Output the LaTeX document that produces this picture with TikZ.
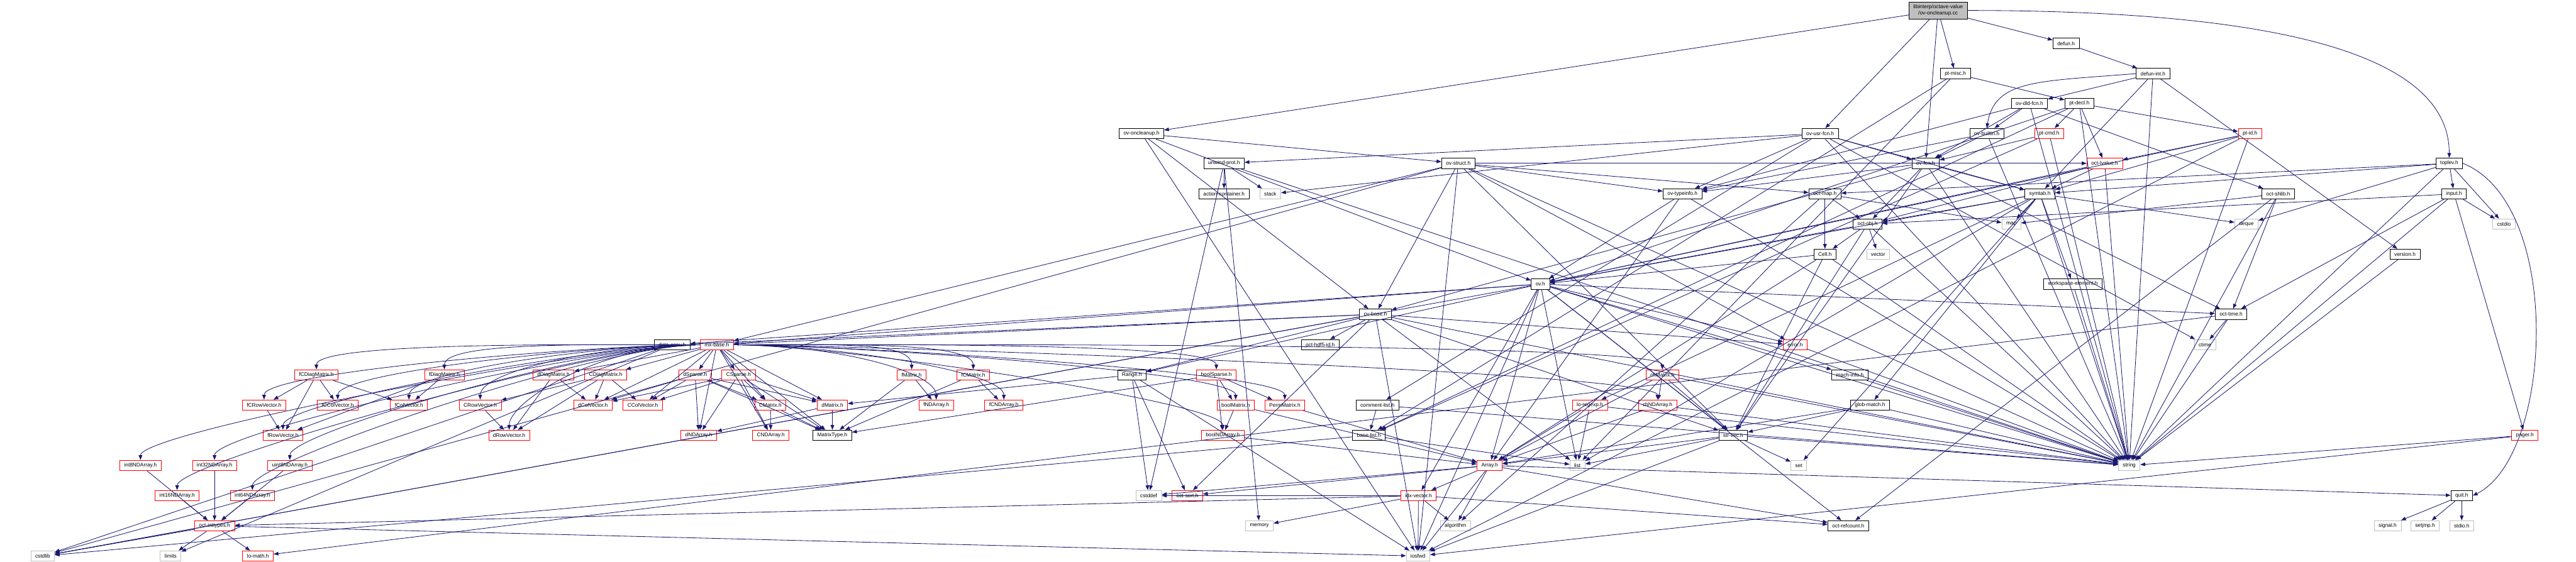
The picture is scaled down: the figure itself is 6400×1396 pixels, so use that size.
\documentclass[tikz,border=0pt]{standalone}
\usepackage{fontspec}
\setmainfont{Liberation Sans}
\usetikzlibrary{arrows.meta}
\definecolor{edgec}{HTML}{191970}
\definecolor{grayb}{HTML}{BFBFBF}
\definecolor{redb}{HTML}{FF0000}
\newcommand\deps[2]{\foreach \tg in {#2}{\draw[edge] (#1) -- (\tg);}}
\newcommand\ldeps[2]{\foreach \tg in {#2}{\draw[edge] (#1.west) .. controls +(-250,0) and +(0,-70) .. (\tg.north);}}
\newcommand\rdeps[2]{\foreach \tg in {#2}{\draw[edge] (#1.east) .. controls +(250,0) and +(0,-70) .. (\tg.north);}}
\begin{document}
\begin{tikzpicture}[x=1pt,y=-1pt,
  nbase/.style={rectangle, minimum height=26pt, inner xsep=11pt, inner ysep=0pt,
    font=\fontsize{13}{15}\selectfont, text=black, line width=1.2pt},
  nb/.style={nbase, draw=black},
  nr/.style={nbase, draw=redb},
  ns/.style={nbase, draw=grayb},
  nroot/.style={nbase, draw=black, fill=grayb, minimum height=42pt, align=center},
  edge/.style={draw=edgec, line width=1.3pt, -{Triangle[length=12pt,width=9pt]}}]
\useasboundingbox (0,0) rectangle (6400,1396);
% top levels
\node[nroot] (root) at (4815,26) {libinterp/octave-value\\/ov-oncleanup.cc};
\node[nb] (defun) at (5133,108) {defun.h};
\node[nb] (ptmisc) at (4858,183) {pt-misc.h};
\node[nb] (defunint) at (5349,183) {defun-int.h};
\node[nb] (ovdld) at (5042,257) {ov-dld-fcn.h};
\node[nb] (ptdecl) at (5166,257) {pt-decl.h};
\node[nb] (ovonc) at (2836,332) {ov-oncleanup.h};
\node[nb] (ovusr) at (4522,332) {ov-usr-fcn.h};
\node[nb] (ovbuiltin) at (4936,332) {ov-builtin.h};
\node[nr] (ptcmd) at (5091,332) {pt-cmd.h};
\node[nr] (ptid) at (5590,332) {pt-id.h};
\node[nb] (unwind) at (3041,406) {unwind-prot.h};
\node[nb] (ovstruct) at (3623,406) {ov-struct.h};
\node[nb] (ovfcn) at (4784,406) {ov-fcn.h};
\node[nr] (octlval) at (5229,406) {oct-lvalue.h};
\node[nb] (toplev) at (6085,406) {toplev.h};
\node[nb] (actcont) at (3041,482) {action-container.h};
\node[ns] (stack) at (3156,482) {stack};
\node[nb] (ovtype) at (4180,482) {ov-typeinfo.h};
\node[nb] (octmap) at (4534,482) {oct-map.h};
\node[nb] (symtab) at (5068,482) {symtab.h};
\node[nb] (octshlib) at (5660,482) {oct-shlib.h};
\node[nb] (input) at (6097,482) {input.h};
\node[nb] (octobj) at (4640,557) {oct-obj.h};
\node[ns] (map) at (4997,557) {map};
\node[ns] (deque) at (5581,557) {deque};
\node[ns] (cstdio) at (6221,557) {cstdio};
\node[nb] (cell) at (4534,632) {Cell.h};
\node[ns] (vector) at (4666,632) {vector};
\node[nb] (version) at (5975,632) {version.h};
\node[nb] (ov) at (3827,706) {ov.h};
\node[nb] (wselem) at (5150,706) {workspace-element.h};
\node[nb] (ovbase) at (3417,781) {ov-base.h};
\node[nb] (octtime) at (5543,781) {oct-time.h};
\node[nb] (dataconv) at (1670,857) {data-conv.h};
\node[nr] (mxbase) at (1781,857) {mx-base.h};
\node[nb] (hdf5id) at (3280,857) {oct-hdf5-id.h};
\node[nr] (error) at (4460,857) {error.h};
\node[ns] (ctime) at (5478,857) {ctime};
% matrix rows
\node[nr] (fCDiag) at (786,932) {fCDiagMatrix.h};
\node[nr] (fDiag) at (1104,932) {fDiagMatrix.h};
\node[nr] (dDiag) at (1375,932) {dDiagMatrix.h};
\node[nr] (CDiag) at (1505,932) {CDiagMatrix.h};
\node[nr] (dSparse) at (1727,932) {dSparse.h};
\node[nr] (CSparse) at (1835,932) {CSparse.h};
\node[nr] (fMat) at (2265,932) {fMatrix.h};
\node[nr] (fCMat) at (2418,932) {fCMatrix.h};
\node[nb] (range) at (2812,932) {Range.h};
\node[nr] (boolSparse) at (3022,932) {boolSparse.h};
\node[nr] (chMat) at (4130,932) {chMatrix.h};
\node[nb] (machinfo) at (4596,932) {mach-info.h};
\node[nr] (fCRow) at (656,1007) {fCRowVector.h};
\node[nr] (fCCol) at (839,1007) {fCColVector.h};
\node[nr] (fCol) at (1016,1007) {fColVector.h};
\node[nr] (CRow) at (1193,1007) {CRowVector.h};
\node[nr] (dCol) at (1473,1007) {dColVector.h};
\node[nr] (CCol) at (1597,1007) {CColVector.h};
\node[nr] (CMat) at (1914,1007) {CMatrix.h};
\node[nr] (dMat) at (2068,1007) {dMatrix.h};
\node[nr] (fND) at (2326,1007) {fNDArray.h};
\node[nr] (fCND) at (2494,1007) {fCNDArray.h};
\node[nr] (boolMat) at (3070,1007) {boolMatrix.h};
\node[nr] (perm) at (3192,1007) {PermMatrix.h};
\node[nb] (commentlist) at (3422,1007) {comment-list.h};
\node[nr] (regexp) at (3950,1007) {lo-regexp.h};
\node[nr] (chND) at (4118,1007) {chNDArray.h};
\node[nb] (glob) at (4646,1007) {glob-match.h};
\node[nr] (fRow) at (703,1082) {fRowVector.h};
\node[nr] (dRow) at (1265,1082) {dRowVector.h};
\node[nr] (dND) at (1736,1082) {dNDArray.h};
\node[nr] (CND) at (1915,1082) {CNDArray.h};
\node[nb] (mtype) at (2068,1082) {MatrixType.h};
\node[nr] (boolND) at (3038,1082) {boolNDArray.h};
\node[nb] (baselist) at (3401,1082) {base-list.h};
\node[nb] (strvec) at (4306,1082) {str-vec.h};
\node[nr] (pager) at (6273,1082) {pager.h};
\node[nr] (i8) at (349,1157) {int8NDArray.h};
\node[nr] (i32) at (533,1157) {int32NDArray.h};
\node[nr] (u8) at (720,1157) {uint8NDArray.h};
\node[nr] (array) at (3701,1157) {Array.h};
\node[ns] (list) at (3919,1157) {list};
\node[ns] (set) at (4469,1157) {set};
\node[ns] (string) at (5290,1157) {string};
\node[nr] (i16) at (440,1232) {int16NDArray.h};
\node[nr] (i64) at (627,1232) {int64NDArray.h};
\node[ns] (cstddef) at (2854,1232) {cstddef};
\node[nr] (octsort) at (2950,1232) {oct-sort.h};
\node[nr] (idxvec) at (3524,1232) {idx-vector.h};
\node[nb] (quit) at (6116,1232) {quit.h};
\node[nr] (inttypes) at (533,1307) {oct-inttypes.h};
\node[ns] (memory) at (3129,1307) {memory};
\node[ns] (algorithm) at (3616,1307) {algorithm};
\node[nb] (refcount) at (4592,1307) {oct-refcount.h};
\node[ns] (signal) at (5932,1307) {signal.h};
\node[ns] (setjmp) at (6025,1307) {setjmp.h};
\node[ns] (stdio) at (6116,1307) {stdio.h};
\node[ns] (cstdlib) at (106,1382) {cstdlib};
\node[ns] (limits) at (424,1382) {limits};
\node[nr] (lomath) at (641,1382) {lo-math.h};
\node[ns] (iosfwd) at (3523,1382) {iosfwd};
% edges
\deps{root}{defun,ovonc,ovfcn,ovusr,ptmisc}
\draw[edge] (root.east) .. controls +(800,0) and +(0,-250) .. (toplev.north);
\deps{defun}{defunint}
\deps{defunint}{ovdld,symtab,version,string}
\draw[edge] (defunint.west) .. controls +(-250,20) and +(20,-120) .. (ovbuiltin.north);
\deps{ptmisc}{ptdecl,baselist,list}
\deps{ptdecl}{ptcmd,ptid,octlval,baselist,string,ov}
\deps{ovdld}{ovbuiltin,ovfcn,octshlib,ovtype,string}
\deps{ovonc}{ovbase,ovstruct,ov,iosfwd}
\deps{ovusr}{ovfcn,unwind,commentlist,ovtype,symtab,ctime,string,stack}
\deps{ovbuiltin}{ovfcn,ovtype,string}
\deps{ptcmd}{ovfcn,baselist,string}
\deps{ptid}{octlval,ov,symtab,string,iosfwd}
\deps{unwind}{actcont,stack,cstddef,memory,string}
\deps{ovstruct}{cstdlib,iosfwd,string,mxbase,strvec,error,octlval,ovbase,ovtype,octmap}
\deps{ovfcn}{octobj,ovtype,ovbase,symtab,octtime,strvec,string}
\deps{octlval}{octobj,ov,symtab,string}
\deps{toplev}{input,cstdio,deque,string,octmap,symtab}
\draw[edge] (toplev.east) .. controls +(250,100) and +(200,-100) .. (quit.east);
\deps{ovtype}{ov,array,string}
\deps{octmap}{algorithm,map,cell,octobj}
\deps{symtab}{deque,list,map,set,string,glob,regexp,octobj,ov,wselem}
\deps{octshlib}{map,octtime,string,refcount}
\deps{input}{cstdio,string,octtime,octobj,pager}
\deps{octobj}{string,vector,cell,ov,strvec}
\deps{cell}{string,array,strvec,ov}
\deps{version}{string}
\deps{ov}{cstdlib,iosfwd,string,list,range,dataconv,idxvec,machinfo,mxbase,octtime,strvec,array,refcount,error}
\deps{wselem}{string}
\deps{ovbase}{cstdlib,iosfwd,list,string,range,dataconv,mxbase,strvec,error,hdf5id,octsort}
\deps{octtime}{ctime,string,lomath}
\deps{dataconv}{cstdlib,limits}
\ldeps{mxbase}{fCDiag,fDiag,fCRow,fCCol,fCol,CRow,fRow,dRow,i8,i16,i32,i64,u8}
\deps{mxbase}{dDiag,CDiag,dCol,CCol,dSparse,CSparse,CMat,dMat,dND,CND,mtype}
\rdeps{mxbase}{fMat,fCMat,boolSparse,chMat,fND,fCND,boolMat,perm,chND,boolND}
\deps{error}{string}
\deps{fCDiag}{fCRow,fCCol,fCol,fRow}
\deps{fDiag}{fCol,fRow}
\deps{dDiag}{dRow,dCol}
\deps{CDiag}{dCol,CCol,CRow,dRow}
\deps{dSparse}{dCol,CCol,dND,CMat,dMat,mtype}
\deps{CSparse}{dCol,CCol,CMat,dMat,dND,CND,mtype}
\deps{fMat}{fND,mtype}
\deps{fCMat}{fCND,mtype}
\deps{range}{dMat,octsort,cstddef,iosfwd}
\deps{boolSparse}{boolMat,boolND,perm,mtype}
\deps{chMat}{chND,array,string,strvec}
\deps{machinfo}{string}
\deps{fCRow}{fRow}
\deps{CRow}{dRow}
\deps{CMat}{CND,mtype}
\deps{dMat}{dND,mtype}
\deps{boolMat}{boolND,array}
\deps{perm}{array}
\deps{commentlist}{baselist,string}
\deps{regexp}{list,array,string}
\deps{chND}{array,string}
\deps{glob}{string,strvec,array}
\deps{boolND}{array}
\deps{baselist}{list,cstdlib}
\deps{strvec}{set,string,iosfwd,list,array}
\deps{pager}{string,iosfwd}
\deps{i8}{inttypes}
\deps{i16}{inttypes}
\deps{i32}{inttypes}
\deps{i64}{inttypes}
\deps{u8}{inttypes}
\deps{array}{idxvec,algorithm,iosfwd,octsort,cstddef,refcount,quit}
\deps{idxvec}{algorithm,iosfwd,memory,refcount,inttypes,cstddef}
\deps{quit}{signal,setjmp,stdio}
\deps{inttypes}{cstdlib,limits,lomath,iosfwd}
\end{tikzpicture}
\end{document}
